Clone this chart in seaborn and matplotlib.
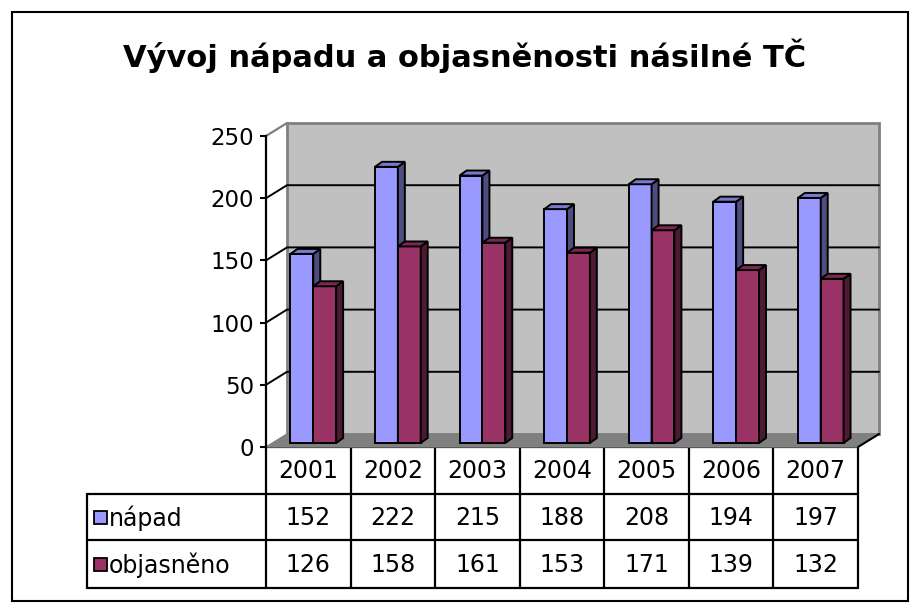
import pandas as pd
import seaborn as sns
import matplotlib.pyplot as plt
from matplotlib.patches import Polygon, Rectangle

# data
roky = ['2001', '2002', '2003', '2004', '2005', '2006', '2007']
napad = [152, 222, 215, 188, 208, 194, 197]
objasneno = [126, 158, 161, 153, 171, 139, 132]
serie = ['nápad', 'objasněno']
barvy = ['#9999FF', '#993366']
barvy_bok = ['#4D4D80', '#4D1A33']
barvy_vrch = ['#7A7ACC', '#7A2952']
titulek = 'Vývoj nápadu a objasněnosti násilné TČ'

df = pd.DataFrame({
    'rok': roky * 2,
    'hodnota': napad + objasneno,
    'serie': [serie[0]] * len(roky) + [serie[1]] * len(roky),
})

sns.set_style('white')
plt.rcParams['font.family'] = ['DejaVu Sans']
plt.rcParams['text.color'] = 'black'
plt.rcParams['ytick.color'] = 'black'
plt.rcParams['ytick.labelcolor'] = 'black'

W, H = 921, 609
fig = plt.figure(figsize=(W / 100, H / 100), dpi=100)

# front plane of the chart in pixels
x_left, x_right, y_zero, y_top = 266, 858, 447, 136
ax = fig.add_axes([x_left / W, 1 - y_zero / H, (x_right - x_left) / W, (y_zero - y_top) / H])

sns.barplot(data=df, x='rok', y='hodnota', hue='serie', palette=barvy, width=0.54,
            saturation=1, edgecolor='black', linewidth=1.4, legend=False, ax=ax)

ax.set_xlim(-0.5, 6.5)
ax.set_ylim(0, 250)
ux = (x_right - x_left) / 7.0   # px per category
uy = (y_zero - y_top) / 250.0   # px per unit

# 3D offsets (px -> data)
wx, wy = 21 / ux, 13 / uy       # back wall
bx, by = 5 / ux, 4 / uy         # bar front plane
ddx, ddy = 7 / ux, 5 / uy       # bar depth

# floor and back wall
ax.add_patch(Polygon([(-0.5, 0), (6.5, 0), (6.5 + wx, wy), (-0.5 + wx, wy)],
                     closed=True, facecolor='#808080', edgecolor='#808080', lw=1,
                     clip_on=False, zorder=0.5))
ax.add_patch(Polygon([(-0.5 + wx, wy), (6.5 + wx, wy), (6.5 + wx, 250 + wy), (-0.5 + wx, 250 + wy)],
                     closed=True, facecolor='#C0C0C0', edgecolor='#808080', lw=2,
                     clip_on=False, zorder=0.4))
ax.plot([-0.5, -0.5 + wx], [250, 250 + wy], color='#808080', lw=1.6, clip_on=False, zorder=0.6)
ax.plot([6.5, 6.5 + wx], [0, wy], color='black', lw=1.5, clip_on=False, zorder=0.6)
for v in [50, 100, 150, 200]:
    ax.plot([-0.5, -0.5 + wx, 6.5 + wx], [v, v + wy, v + wy], color='black', lw=1.4,
            clip_on=False, zorder=0.6)

# bars: shift to depth and add side / top faces
for i, cont in enumerate(ax.containers):
    for p in cont:
        h = p.get_height()
        x0 = p.get_x() + bx
        x1 = x0 + p.get_width()
        p.set_x(x0)
        p.set_y(by)
        p.set_zorder(3 + i)
        p.set_clip_on(False)
        ax.add_patch(Polygon([(x1, by), (x1 + ddx, by + ddy), (x1 + ddx, by + h + ddy), (x1, by + h)],
                             closed=True, facecolor=barvy_bok[i], edgecolor='black', lw=1.4,
                             zorder=3 + i, clip_on=False))
        ax.add_patch(Polygon([(x0, by + h), (x1, by + h), (x1 + ddx, by + h + ddy), (x0 + ddx, by + h + ddy)],
                             closed=True, facecolor=barvy_vrch[i], edgecolor='black', lw=1.4,
                             zorder=3 + i, clip_on=False))

for s in ['top', 'right', 'bottom']:
    ax.spines[s].set_visible(False)
ax.spines['left'].set_color('black')
ax.spines['left'].set_linewidth(1.6)
ax.set_yticks([0, 50, 100, 150, 200, 250])
ax.tick_params(axis='y', left=True, length=4.5, width=1.5, pad=4, labelsize=16.5, colors='black')
ax.set_xticks([])
ax.set_xlabel('')
ax.set_ylabel('')
ax.patch.set_visible(False)

# table + frame in pixel coordinates
tab = fig.add_axes([0, 0, 1, 1], zorder=-1)
tab.set_xlim(0, W)
tab.set_ylim(H, 0)
tab.axis('off')

tab.add_patch(Rectangle((12, 12), 896, 589, fill=False, edgecolor='black', lw=1.5))
tab.text(465, 56, titulek, ha='center', va='center', fontsize=22, fontweight='bold')

cols = [x_left + i * ux for i in range(8)]
r0, r1, r2, r3 = 447, 494, 540, 588
lab_left = 87
lw_t = 1.6
tab.plot([x_left, x_right], [r0, r0], color='black', lw=lw_t)
for y in [r1, r2, r3]:
    tab.plot([lab_left, x_right], [y, y], color='black', lw=lw_t)
for x in cols:
    tab.plot([x, x], [r0, r3], color='black', lw=lw_t)
tab.plot([lab_left, lab_left], [r1, r3], color='black', lw=lw_t)

for j, rok in enumerate(roky):
    cx = (cols[j] + cols[j + 1]) / 2
    tab.text(cx, (r0 + r1) / 2 + 1, rok, ha='center', va='center', fontsize=17)
    tab.text(cx, (r1 + r2) / 2 + 1, str(napad[j]), ha='center', va='center', fontsize=17)
    tab.text(cx, (r2 + r3) / 2 + 1, str(objasneno[j]), ha='center', va='center', fontsize=17)

for i, (nazev, y0, y1) in enumerate([(serie[0], r1, r2), (serie[1], r2, r3)]):
    cy = (y0 + y1) / 2
    tab.add_patch(Rectangle((94, cy - 6.5), 13, 13, facecolor=barvy[i], edgecolor='black', lw=1.3))
    tab.text(109, cy + 1, nazev, ha='left', va='center', fontsize=17)

fig.savefig('out.png', dpi=100)
